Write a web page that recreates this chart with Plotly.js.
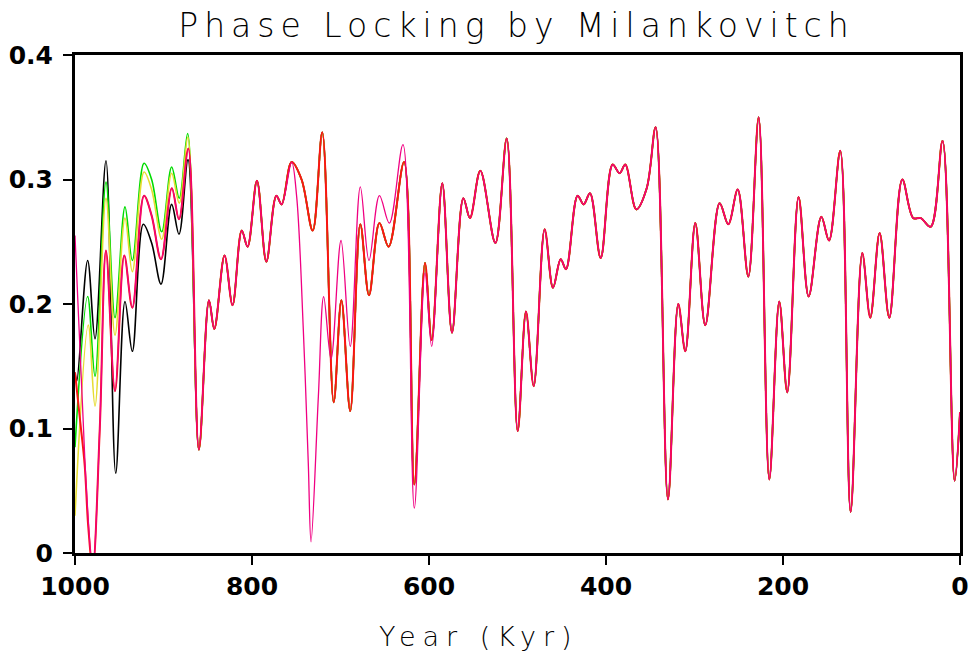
<!DOCTYPE html>
<html>
<head>
<meta charset="utf-8">
<script src="https://cdn.plot.ly/plotly-3.0.1.min.js"></script>
<style>
  html, body { margin: 0; padding: 0; background: #fff; }
  .gtitle { letter-spacing: 6px; }
  .annotation-text { letter-spacing: 7px; }
</style>
</head>
<body>
<div id="chart" style="width:969px;height:663px;"></div>
<script>
// ---- Shared curve (all runs coincide after ~865 kyr) ----
const commonYears = [860, 848.6, 842.6, 831, 822, 811.6, 805, 794.4, 783.8, 772.5, 766.5, 755.2, 744, 731.4, 720.6, 707.7, 699, 689, 677.6, 667.8, 656, 645.6, 628.2, 616.6, 604.5, 597, 585, 574, 561.2, 553.7, 542, 525, 512.2, 499.8, 490.4, 481.7, 469.3, 459.9, 451.2, 445.2, 432.1, 425.3, 418.1, 406, 392.5, 384.6, 378.2, 365.8, 354, 343.9, 330, 318.3, 310.4, 299.1, 287.8, 271.6, 261.8, 251.2, 239.2, 227.5, 215.5, 204.2, 195.2, 182.4, 171, 156.7, 148, 135.3, 123.6, 110.4, 101.4, 90.8, 79.9, 65.2, 52.8, 44.4, 33.1, 19.7, 6.1, 0];
const commonVals  = [0.083, 0.203, 0.180, 0.239, 0.199, 0.259, 0.246, 0.299, 0.234, 0.287, 0.280, 0.314, 0.300, 0.259, 0.338, 0.121, 0.203, 0.114, 0.264, 0.207, 0.265, 0.246, 0.314, 0.055, 0.233, 0.171, 0.297, 0.177, 0.285, 0.269, 0.307, 0.249, 0.333, 0.098, 0.194, 0.134, 0.260, 0.213, 0.236, 0.228, 0.287, 0.280, 0.289, 0.237, 0.312, 0.305, 0.312, 0.276, 0.293, 0.342, 0.043, 0.200, 0.162, 0.265, 0.183, 0.281, 0.264, 0.292, 0.222, 0.350, 0.059, 0.202, 0.129, 0.286, 0.206, 0.270, 0.251, 0.323, 0.033, 0.241, 0.189, 0.257, 0.189, 0.300, 0.269, 0.269, 0.262, 0.331, 0.058, 0.113];

// ---- Early (1000-872 kyr) parts of each run ----
const blackYears  = [1000, 998, 985.7, 977.4, 965, 954, 943.5, 935.2, 922.8, 913.4, 902.8, 890.8, 882.5, 872.3];
const blackVals   = [0.145, 0.138, 0.235, 0.172, 0.315, 0.064, 0.202, 0.162, 0.264, 0.249, 0.216, 0.280, 0.256, 0.316];

const greenYears  = [1000, 985.7, 977.4, 965, 954.8, 943.5, 935.2, 922, 913.4, 902, 890.8, 882.2, 872.7];
const greenVals   = [0.085, 0.206, 0.142, 0.298, 0.189, 0.278, 0.235, 0.313, 0.300, 0.258, 0.310, 0.285, 0.337];

const yellowYears = [1000, 985, 977.4, 965, 954.8, 943.5, 935.2, 922, 913.4, 902, 890.8, 882.2, 872.5];
const yellowVals  = [0.030, 0.183, 0.118, 0.285, 0.175, 0.269, 0.226, 0.306, 0.292, 0.252, 0.305, 0.281, 0.334];

const redYears    = [1000, 994, 989, 985, 980, 972, 965, 954.8, 944.3, 935.2, 922, 913.4, 902.8, 890.6, 882.5, 872];
const redVals     = [0.145, 0.105, 0.070, 0.021, -0.012, 0.100, 0.243, 0.130, 0.239, 0.197, 0.287, 0.271, 0.236, 0.293, 0.268, 0.325];

const magentaYears = [1000, 996, 991, 987, 980, 972, 965, 954.8, 944.3, 935.2, 922, 913.4, 902.8, 890.6, 882.5, 872];
const magentaVals  = [0.255, 0.190, 0.110, 0.050, -0.012, 0.100, 0.243, 0.130, 0.239, 0.197, 0.287, 0.271, 0.236, 0.293, 0.268, 0.325];

// ---- Magenta run departs from the others between ~750 and ~597 kyr ----
const magentaMidYears = [749.5, 742, 736.4, 733.3, 725, 719, 710.7, 699.4, 689, 677.6, 667.8, 656, 644.8, 629.4, 616.6, 604.5, 597];
const magentaMidVals  = [0.286, 0.179, 0.072, 0.009, 0.126, 0.206, 0.156, 0.251, 0.166, 0.294, 0.235, 0.287, 0.265, 0.328, 0.036, 0.225, 0.166];

function joinCommon(ey, ev) {
  return { x: ey.concat(commonYears), y: ev.concat(commonVals) };
}
function joinMagenta() {
  const x = magentaYears.slice(), y = magentaVals.slice();
  let midDone = false;
  for (let i = 0; i < commonYears.length; i++) {
    const yr = commonYears[i];
    if (yr <= 750 && yr >= 596) {
      if (!midDone) {
        for (let j = 0; j < magentaMidYears.length; j++) { x.push(magentaMidYears[j]); y.push(magentaMidVals[j]); }
        midDone = true;
      }
      continue;
    }
    x.push(yr); y.push(commonVals[i]);
  }
  return { x, y };
}

const runs = [
  { d: joinCommon(blackYears, blackVals),   color: 'rgb(0,0,0)',      w: 1.6 },
  { d: joinCommon(greenYears, greenVals),   color: 'rgb(0,220,0)',    w: 1.6 },
  { d: joinCommon(yellowYears, yellowVals), color: 'rgb(230,220,50)', w: 1.6 },
  { d: joinCommon(redYears, redVals),       color: 'rgb(250,20,20)',  w: 2.0 },
  { d: joinMagenta(),                       color: 'rgb(240,0,130)',  w: 1.3 }
];

const traces = runs.map(r => ({
  type: 'scatter', mode: 'lines',
  x: r.d.x, y: r.d.y,
  line: { color: r.color, width: r.w, shape: 'spline', smoothing: 1 },
  hoverinfo: 'skip'
}));

const tickFont = { family: 'DejaVu Sans', size: 25, weight: 'bold', color: '#000' };

const layout = {
  width: 969, height: 663,
  margin: { l: 75, r: 9, t: 55, b: 110, pad: 0 },
  paper_bgcolor: '#fff', plot_bgcolor: '#fff',
  showlegend: false,
  title: {
    text: 'Phase Locking by Milankovitch',
    font: { family: 'DejaVu Sans', size: 33, weight: 200, color: '#000' },
    x: 0.533, xanchor: 'center', xref: 'container',
    y: 0.962, yanchor: 'middle', yref: 'container'
  },
  xaxis: {
    range: [1000, 0], autorange: false,
    tickvals: [1000, 800, 600, 400, 200, 0],
    ticktext: ['1000', '800', '600', '400', '200', '0'],
    ticks: 'outside', ticklen: 9, tickwidth: 2, tickcolor: '#000',
    showline: true, linewidth: 3, linecolor: '#000', mirror: true,
    showgrid: false, zeroline: false,
    tickfont: tickFont
  },
  yaxis: {
    range: [0, 0.4], autorange: false,
    tickvals: [0, 0.1, 0.2, 0.3, 0.4],
    ticktext: ['0', '0.1', '0.2', '0.3', '0.4'],
    ticks: 'outside', ticklen: 9, tickwidth: 2, tickcolor: '#000',
    ticklabelstandoff: 5,
    showline: true, linewidth: 3, linecolor: '#000', mirror: true,
    showgrid: false, zeroline: false,
    tickfont: tickFont
  },
  annotations: [{
    text: 'Year (Kyr)', showarrow: false,
    xref: 'paper', yref: 'paper',
    x: 0.457, y: -0.168, xanchor: 'center', yanchor: 'middle',
    font: { family: 'DejaVu Sans', size: 27, weight: 200, color: '#000' }
  }]
};

Plotly.newPlot('chart', traces, layout, { displayModeBar: false, staticPlot: true });
</script>
</body>
</html>
